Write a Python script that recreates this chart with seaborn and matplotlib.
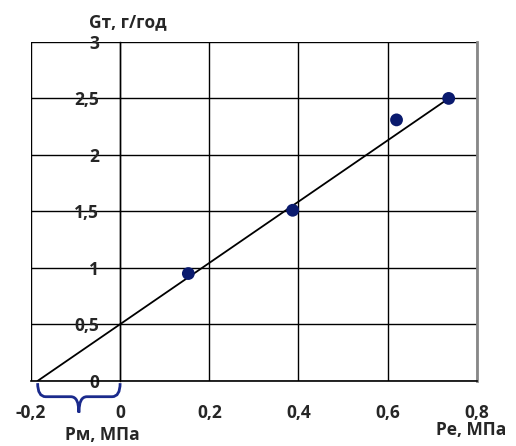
import numpy as np
import pandas as pd
import seaborn as sns
import matplotlib.pyplot as plt
from matplotlib.path import Path
from matplotlib.patches import PathPatch

# Du lieu doc tu hinh
pe = [0.153, 0.387, 0.62, 0.737]
gt = [0.95, 1.51, 2.31, 2.50]
# duong thang xap xi
line_x = [-0.185, 0.737]
line_y = [0.0, 2.5]
x_ticks = [-0.2, 0, 0.2, 0.4, 0.6, 0.8]
y_ticks = [0, 0.5, 1, 1.5, 2, 2.5, 3]
x_labels = ["-0,2", "0", "0,2", "0,4", "0,6", "0,8"]
y_labels = ["0", "0,5", "1", "1,5", "2", "2,5", "3"]

sns.set_style("white")
plt.rcParams['font.family'] = ['Open Sans', 'DejaVu Sans']
plt.rcParams['font.weight'] = 'bold'

df = pd.DataFrame({"Pe": pe, "Gt": gt})
df_line = pd.DataFrame({"x": line_x, "y": line_y})

fig = plt.figure(figsize=(5.16, 4.46), dpi=100)
ax = fig.add_axes([0.060, 0.146, 0.864, 0.760])

sns.lineplot(data=df_line, x="x", y="y", color="black", linewidth=1.3, ax=ax, zorder=3)
sns.scatterplot(data=df, x="Pe", y="Gt", color="#0a1a6e", s=85, edgecolor="none", ax=ax, zorder=4)

# os y tai x = 0 (dat truoc khi dat nhan)
ax.spines['left'].set_position(('data', 0))
ax.spines['left'].set_color("black")
ax.spines['left'].set_linewidth(1.0)
ax.spines['bottom'].set_color("black")
ax.spines['bottom'].set_linewidth(1.2)
ax.spines['top'].set_visible(False)
ax.spines['right'].set_color("#888888")
ax.spines['right'].set_linewidth(2.0)

ax.set_xlim(-0.2, 0.8)
ax.set_ylim(0, 3)
ax.set_xticks(x_ticks)
ax.set_xticklabels(x_labels, fontsize=12.5, fontweight="bold")
ax.set_yticks(y_ticks)
ax.set_yticklabels(y_labels, fontsize=12.5, fontweight="bold")
ax.set_xlabel("")
ax.set_ylabel("")
ax.grid(True, color="black", linewidth=1.0)
ax.set_axisbelow(True)
ax.tick_params(axis='y', length=0, pad=15)
ax.tick_params(axis='x', direction='out', length=6, width=1.2, color="black", pad=11)

# dau ngoac nhon duoi truc x
x0, x1 = line_x[0], 0.0
xm = (x0 + x1) / 2
ya, yb, yc = -0.02, -0.14, -0.28
d = 0.018
verts = [(x0, ya), (x0, yb), (x0 + d, yb),
         (xm - d, yb), (xm, yb), (xm, yc),
         (xm, yb), (xm + d, yb),
         (x1 - d, yb), (x1, yb), (x1, ya)]
codes = [Path.MOVETO, Path.CURVE3, Path.CURVE3,
         Path.LINETO, Path.CURVE3, Path.CURVE3,
         Path.CURVE3, Path.CURVE3,
         Path.LINETO, Path.CURVE3, Path.CURVE3]
brace = PathPatch(Path(verts, codes), facecolor="none", edgecolor="#1a2a8c", linewidth=2, clip_on=False)
ax.add_patch(brace)

fig.text(128 / 516, 1 - 22 / 446, "Gт, г/год", fontsize=12.5, fontweight="bold", ha="center", va="center")
fig.text(102 / 516, 1 - 435 / 446, "Рм, МПа", fontsize=12.5, fontweight="bold", ha="center", va="center")
fig.text(471 / 516, 1 - 430 / 446, "Ре, МПа", fontsize=12.5, fontweight="bold", ha="center", va="center")

fig.savefig("out.png", dpi=100)
